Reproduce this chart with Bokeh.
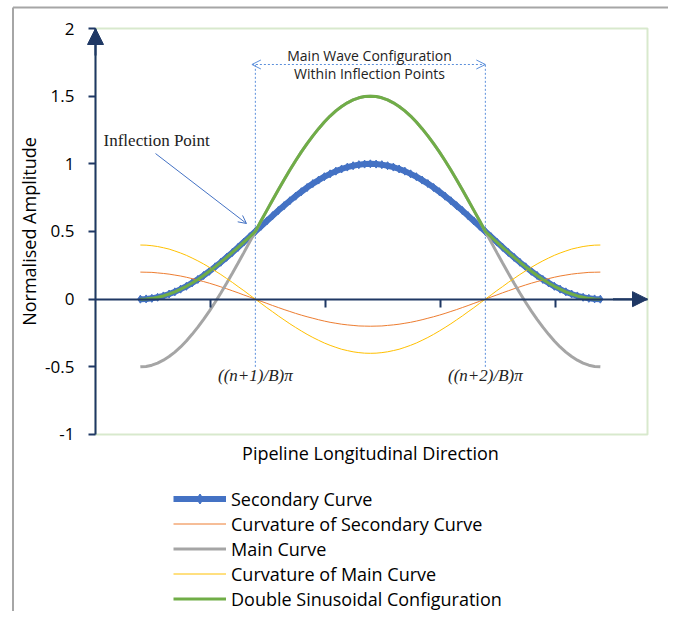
from bokeh.plotting import figure
from bokeh.models import (Range1d, FixedTicker, Label, Arrow, NormalHead, OpenHead,
                          Legend, LegendItem, NumeralTickFormatter, ColumnDataSource,
                          BoxAnnotation, CustomJSTickFormatter)
from bokeh.embed import file_html
from bokeh.resources import INLINE

# ---------------- data ----------------
x_pos = [0.39, 0.44, 0.49, 0.54, 0.59, 0.64, 0.69, 0.74, 0.79, 0.84,
         0.89, 0.94, 0.99, 1.04, 1.09, 1.14, 1.19, 1.24, 1.29, 1.34,
         1.39, 1.44, 1.49, 1.54, 1.59, 1.64, 1.69, 1.74, 1.79, 1.84,
         1.89, 1.94, 1.99, 2.04, 2.09, 2.14, 2.19, 2.24, 2.29, 2.34,
         2.39,
         2.44, 2.49, 2.54, 2.59, 2.64, 2.69, 2.74, 2.79, 2.84, 2.89,
         2.94, 2.99, 3.04, 3.09, 3.14, 3.19, 3.24, 3.29, 3.34, 3.39,
         3.44, 3.49, 3.54, 3.59, 3.64, 3.69, 3.74, 3.79, 3.84, 3.89,
         3.94, 3.99, 4.04, 4.09, 4.14, 4.19, 4.24, 4.29, 4.34, 4.39]

secondary_curve = [0, 0.002, 0.006, 0.014, 0.024, 0.038, 0.054, 0.074, 0.095, 0.120,
                   0.146, 0.175, 0.206, 0.239, 0.273, 0.309, 0.345, 0.383, 0.422, 0.461,
                   0.5, 0.539, 0.578, 0.617, 0.655, 0.691, 0.727, 0.761, 0.794, 0.825,
                   0.854, 0.880, 0.905, 0.926, 0.946, 0.962, 0.976, 0.986, 0.994, 0.998,
                   1.0,
                   0.998, 0.994, 0.986, 0.976, 0.962, 0.946, 0.926, 0.905, 0.880, 0.854,
                   0.825, 0.794, 0.761, 0.727, 0.691, 0.655, 0.617, 0.578, 0.539, 0.5,
                   0.461, 0.422, 0.383, 0.345, 0.309, 0.273, 0.239, 0.206, 0.175, 0.146,
                   0.120, 0.095, 0.074, 0.054, 0.038, 0.024, 0.014, 0.006, 0.002, 0]

curvature_secondary = [0.2, 0.199, 0.198, 0.194, 0.190, 0.185, 0.178, 0.171, 0.162, 0.152,
                       0.141, 0.130, 0.118, 0.105, 0.091, 0.077, 0.062, 0.047, 0.031, 0.016,
                       0, -0.016, -0.031, -0.047, -0.062, -0.077, -0.091, -0.105, -0.118, -0.130,
                       -0.141, -0.152, -0.162, -0.171, -0.178, -0.185, -0.190, -0.194, -0.198, -0.199,
                       -0.2,
                       -0.199, -0.198, -0.194, -0.190, -0.185, -0.178, -0.171, -0.162, -0.152, -0.141,
                       -0.130, -0.118, -0.105, -0.091, -0.077, -0.062, -0.047, -0.031, -0.016, 0,
                       0.016, 0.031, 0.047, 0.062, 0.077, 0.091, 0.105, 0.118, 0.130, 0.141,
                       0.152, 0.162, 0.171, 0.178, 0.185, 0.190, 0.194, 0.198, 0.199, 0.2]

main_curve = [-0.5, -0.497, -0.488, -0.472, -0.451, -0.424, -0.391, -0.353, -0.309, -0.260,
              -0.207, -0.149, -0.088, -0.023, 0.046, 0.117, 0.191, 0.267, 0.344, 0.422,
              0.5, 0.579, 0.656, 0.733, 0.809, 0.883, 0.954, 1.023, 1.088, 1.149,
              1.207, 1.260, 1.309, 1.353, 1.391, 1.424, 1.451, 1.472, 1.488, 1.497,
              1.5,
              1.497, 1.488, 1.472, 1.451, 1.424, 1.391, 1.353, 1.309, 1.260, 1.207,
              1.149, 1.088, 1.023, 0.954, 0.883, 0.809, 0.733, 0.656, 0.579, 0.5,
              0.422, 0.344, 0.267, 0.191, 0.117, 0.046, -0.023, -0.088, -0.149, -0.207,
              -0.260, -0.309, -0.353, -0.391, -0.424, -0.451, -0.472, -0.488, -0.497, -0.5]

curvature_main = [0.4, 0.399, 0.395, 0.389, 0.380, 0.370, 0.356, 0.341, 0.324, 0.304,
                  0.283, 0.260, 0.235, 0.209, 0.182, 0.153, 0.124, 0.093, 0.063, 0.031,
                  0, -0.031, -0.063, -0.093, -0.124, -0.153, -0.182, -0.209, -0.235, -0.260,
                  -0.283, -0.304, -0.324, -0.341, -0.356, -0.370, -0.380, -0.389, -0.395, -0.399,
                  -0.4,
                  -0.399, -0.395, -0.389, -0.380, -0.370, -0.356, -0.341, -0.324, -0.304, -0.283,
                  -0.260, -0.235, -0.209, -0.182, -0.153, -0.124, -0.093, -0.063, -0.031, 0,
                  0.031, 0.063, 0.093, 0.124, 0.153, 0.182, 0.209, 0.235, 0.260, 0.283,
                  0.304, 0.324, 0.341, 0.356, 0.370, 0.380, 0.389, 0.395, 0.399, 0.4]

double_sinusoidal = [0, 0.002, 0.006, 0.014, 0.024, 0.038, 0.054, 0.074, 0.095, 0.120,
                     0.146, 0.175, 0.206, 0.239, 0.273, 0.309, 0.345, 0.383, 0.422, 0.461,
                     0.5, 0.579, 0.656, 0.733, 0.809, 0.883, 0.954, 1.023, 1.088, 1.149,
                     1.207, 1.260, 1.309, 1.353, 1.391, 1.424, 1.451, 1.472, 1.488, 1.497,
                     1.5,
                     1.497, 1.488, 1.472, 1.451, 1.424, 1.391, 1.353, 1.309, 1.260, 1.207,
                     1.149, 1.088, 1.023, 0.954, 0.883, 0.809, 0.733, 0.656, 0.579, 0.5,
                     0.461, 0.422, 0.383, 0.345, 0.309, 0.273, 0.239, 0.206, 0.175, 0.146,
                     0.120, 0.095, 0.074, 0.054, 0.038, 0.024, 0.014, 0.006, 0.002, 0]

series_names = ["Secondary Curve", "Curvature of Secondary Curve", "Main Curve",
                "Curvature of Main Curve", "Double Sinusoidal Configuration"]
y_ticks = [-1, -0.5, 0, 0.5, 1, 1.5, 2]
x_ticks = [1, 2, 3, 4]
inflection_x = [1.39, 3.39]
inflection_labels = ["((n+1)/B)\u03c0", "((n+2)/B)\u03c0"]

# ---------------- styling ----------------
NAVY = "#1F3864"
FONT = "Open Sans"
BLUE = "#4472C4"
DOT = "#5B8FDB"
PX_X = 115.0      # pixels per x unit
PX_Y = 135.333    # pixels per y unit
W, H = 668, 611
X0, Y0 = 95, 28   # pixel position of (x=0, y=2)

p = figure(frame_width=W, frame_height=H,
           x_range=Range1d(-X0 / PX_X, (W - X0) / PX_X),
           y_range=Range1d(2 - (H - Y0) / PX_Y, 2 + Y0 / PX_Y),
           output_backend="svg", toolbar_location=None,
           min_border_left=0, min_border_right=0, min_border_top=0,
           min_border_bottom=0, background_fill_color="white",
           border_fill_color="white")
p.outline_line_color = None
p.grid.visible = False

# plot-area frame (green)
p.add_layout(BoxAnnotation(left=0, right=4.8, bottom=-1, top=2, fill_alpha=0,
                           line_color="#7DB55A", line_width=2, level="underlay"))

# y axis pinned at x = 0
ya = p.yaxis[0]
ya.fixed_location = 0
ya.bounds = (-1, 2)
ya.ticker = FixedTicker(ticks=y_ticks, minor_ticks=[])
ya.formatter = NumeralTickFormatter(format="0.[0]")
ya.axis_line_color = NAVY
ya.axis_line_width = 2
ya.major_tick_line_color = NAVY
ya.major_tick_line_width = 2
ya.major_tick_out = 7
ya.major_tick_in = 0
ya.minor_tick_line_color = None
ya.major_label_standoff = 14
ya.major_label_text_font = FONT
ya.major_label_text_font_size = "17px"
ya.major_label_text_color = "black"
ya.axis_label = "Normalised Amplitude"
ya.axis_label_text_font = FONT
ya.axis_label_text_font_size = "18px"
ya.axis_label_text_font_style = "normal"
ya.axis_label_text_color = "black"
ya.axis_label_standoff = 1

# x axis pinned at y = 0
xa = p.xaxis[0]
xa.fixed_location = 0
xa.bounds = (0, 4.8)
xa.ticker = FixedTicker(ticks=x_ticks, minor_ticks=[])
xa.formatter = CustomJSTickFormatter(code="return ''")
xa.axis_line_color = NAVY
xa.axis_line_width = 2
xa.major_tick_line_color = NAVY
xa.major_tick_line_width = 2
xa.major_tick_out = 8
xa.major_tick_in = 0
xa.minor_tick_line_color = None

src = ColumnDataSource(dict(x=x_pos, sec=secondary_curve, csec=curvature_secondary,
                            main=main_curve, cmain=curvature_main, dbl=double_sinusoidal))

# inflection dotted verticals
p.segment(x0=inflection_x, y0=[-0.5, -0.5], x1=inflection_x, y1=[1.734, 1.734],
          line_color=DOT, line_width=1, line_dash="2 2")

r_sec = p.line("x", "sec", source=src, line_color=BLUE, line_width=6)
r_sec_m = p.scatter("x", "sec", source=src, marker="diamond", size=8,
                    fill_color=BLUE, line_color=BLUE)
r_csec = p.line("x", "csec", source=src, line_color="#ED7D31", line_width=1)
r_main = p.line("x", "main", source=src, line_color="#A5A5A5", line_width=3)
r_cmain = p.line("x", "cmain", source=src, line_color="#FFC000", line_width=1)
r_dbl = p.line("x", "dbl", source=src, line_color="#70AD47", line_width=3)

# axis arrow heads
p.add_layout(Arrow(end=NormalHead(size=16, fill_color=NAVY, line_color=NAVY),
                   x_start=0, y_start=1.8, x_end=0, y_end=2,
                   line_color=NAVY, line_width=2))
p.add_layout(Arrow(end=NormalHead(size=15, fill_color=NAVY, line_color=NAVY),
                   x_start=4.5, y_start=0, x_end=4.8, y_end=0,
                   line_color=NAVY, line_width=2))

# main-wave double arrow
p.add_layout(Arrow(start=OpenHead(size=9, line_color=DOT, line_width=1),
                   end=OpenHead(size=9, line_color=DOT, line_width=1),
                   x_start=1.36, y_start=1.734, x_end=3.39, y_end=1.734,
                   line_color=DOT, line_width=1, line_dash="2 2"))

p.add_layout(Label(x=2.383, y=1.80, text="Main Wave Configuration",
                   text_font=FONT, text_font_size="14px", text_align="center",
                   text_baseline="middle", text_color="#222222"))
p.add_layout(Label(x=2.383, y=1.667, text="Within Inflection Points",
                   text_font=FONT, text_font_size="14px", text_align="center",
                   text_baseline="middle", text_color="#222222"))

# inflection point callout
p.add_layout(Label(x=0.07, y=1.172, text="Inflection Point",
                   text_font="Liberation Serif", text_font_size="17px",
                   text_align="left", text_baseline="middle", text_color="#222222"))
p.add_layout(Arrow(end=OpenHead(size=8, line_color=BLUE, line_width=1),
                   x_start=0.522, y_start=1.076, x_end=1.313, y_end=0.559,
                   line_color=BLUE, line_width=1))

for xv, txt in zip(inflection_x, inflection_labels):
    p.add_layout(Label(x=xv, y=-0.565, text=txt,
                       text_font="Liberation Serif", text_font_style="italic",
                       text_font_size="17px", text_align="center",
                       text_baseline="middle", text_color="#222222"))

# x axis title
p.add_layout(Label(x=2.391, y=-1.14, text="Pipeline Longitudinal Direction",
                   text_font=FONT, text_font_size="18px", text_align="center",
                   text_baseline="middle", text_color="black"))

# outer border (top and left edges of the surrounding chart box)
p.add_layout(Arrow(end=None, x_start=-0.7174, y_start=2.1552, x_end=5.0, y_end=2.1552,
                   line_color="#A6A6A6", line_width=2))
p.add_layout(Arrow(end=None, x_start=-0.7174, y_start=2.1552, x_end=-0.7174, y_end=-2.4,
                   line_color="#A6A6A6", line_width=2))

legend = Legend(items=[
    LegendItem(label=series_names[0], renderers=[r_sec, r_sec_m]),
    LegendItem(label=series_names[1], renderers=[r_csec]),
    LegendItem(label=series_names[2], renderers=[r_main]),
    LegendItem(label=series_names[3], renderers=[r_cmain]),
    LegendItem(label=series_names[4], renderers=[r_dbl]),
], location=(173, 0), orientation="vertical")
legend.glyph_width = 53
legend.glyph_height = 25
legend.label_height = 25
legend.label_standoff = 5
legend.spacing = 0
legend.padding = 0
legend.margin = 0
legend.border_line_color = None
legend.background_fill_alpha = 0
legend.label_text_font = FONT
legend.label_text_font_size = "18px"
legend.label_text_color = "black"
p.add_layout(legend)

open("out.html", "w").write(file_html(p, INLINE))
